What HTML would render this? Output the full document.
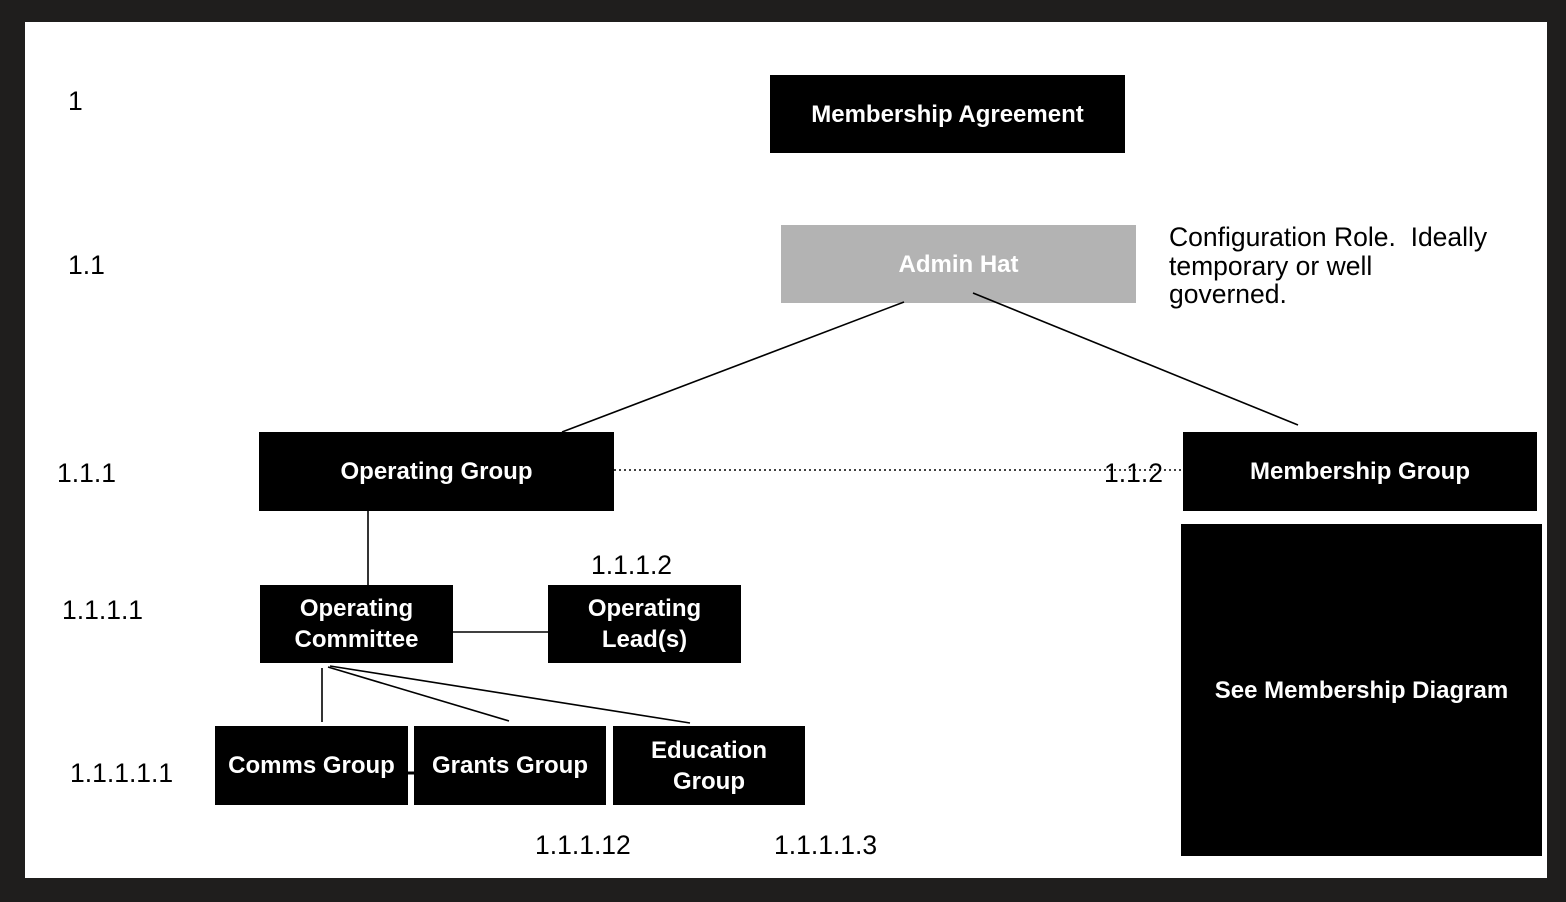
<!DOCTYPE html>
<html><head><meta charset="utf-8"><style>
html,body{margin:0;padding:0;}
body{width:1566px;height:902px;background:#1f1e1d;position:relative;overflow:hidden;font-family:"Liberation Sans",Arial,sans-serif;}
.page{position:absolute;left:25px;top:22px;width:1522px;height:856px;background:#fff;}
.b{position:absolute;background:#000;color:#fff;font-weight:bold;font-size:24px;display:flex;align-items:center;justify-content:center;text-align:center;line-height:31px;}
.t{position:absolute;color:#000;font-size:26.5px;line-height:28px;white-space:nowrap;}
svg{position:absolute;left:0;top:0;}
</style></head><body>
<div class="page"></div>
<div class="b" style="left:770px;top:75px;width:355px;height:78px;">Membership Agreement</div>
<div class="b" style="left:781px;top:225px;width:355px;height:78px;background:#b3b3b3;">Admin Hat</div>
<div class="b" style="left:259px;top:432px;width:355px;height:79px;">Operating Group</div>
<div class="b" style="left:1183px;top:432px;width:354px;height:79px;">Membership Group</div>
<div class="b" style="left:1181px;top:524px;width:361px;height:332px;">See Membership Diagram</div>
<div class="b" style="left:260px;top:585px;width:193px;height:78px;">Operating<br>Committee</div>
<div class="b" style="left:548px;top:585px;width:193px;height:78px;">Operating<br>Lead(s)</div>
<div class="b" style="left:215px;top:726px;width:193px;height:79px;">Comms Group</div>
<div class="b" style="left:414px;top:726px;width:192px;height:79px;">Grants Group</div>
<div class="b" style="left:613px;top:726px;width:192px;height:79px;">Education<br>Group</div>
<svg width="1566" height="902">
<g stroke="#000" stroke-width="1.6" fill="none">
<line x1="904" y1="302" x2="562" y2="432"/>
<line x1="973" y1="293" x2="1298" y2="425"/>
<line x1="614" y1="470" x2="1183" y2="470" stroke-dasharray="2,3"/>
<line x1="368" y1="511" x2="368" y2="585"/>
<line x1="453" y1="632" x2="548" y2="632"/>
<line x1="322" y1="668" x2="322" y2="722"/>
<line x1="328" y1="667" x2="509" y2="721"/>
<line x1="330" y1="666" x2="690" y2="723"/>
<line x1="408" y1="773" x2="414" y2="773" stroke-width="3"/>
</g>
</svg>
<div class="t" style="left:68px;top:87px;">1</div>
<div class="t" style="left:68px;top:251px;">1.1</div>
<div class="t" style="left:57px;top:459px;">1.1.1</div>
<div class="t" style="left:62px;top:596px;">1.1.1.1</div>
<div class="t" style="left:70px;top:759px;">1.1.1.1.1</div>
<div class="t" style="left:1104px;top:459px;">1.1.2</div>
<div class="t" style="left:591px;top:551px;">1.1.1.2</div>
<div class="t" style="left:535px;top:831px;">1.1.1.12</div>
<div class="t" style="left:774px;top:831px;">1.1.1.1.3</div>
<div class="t" style="left:1169px;top:223px;line-height:28.5px;">Configuration Role.&nbsp; Ideally<br>temporary or well<br>governed.</div>
</body></html>
